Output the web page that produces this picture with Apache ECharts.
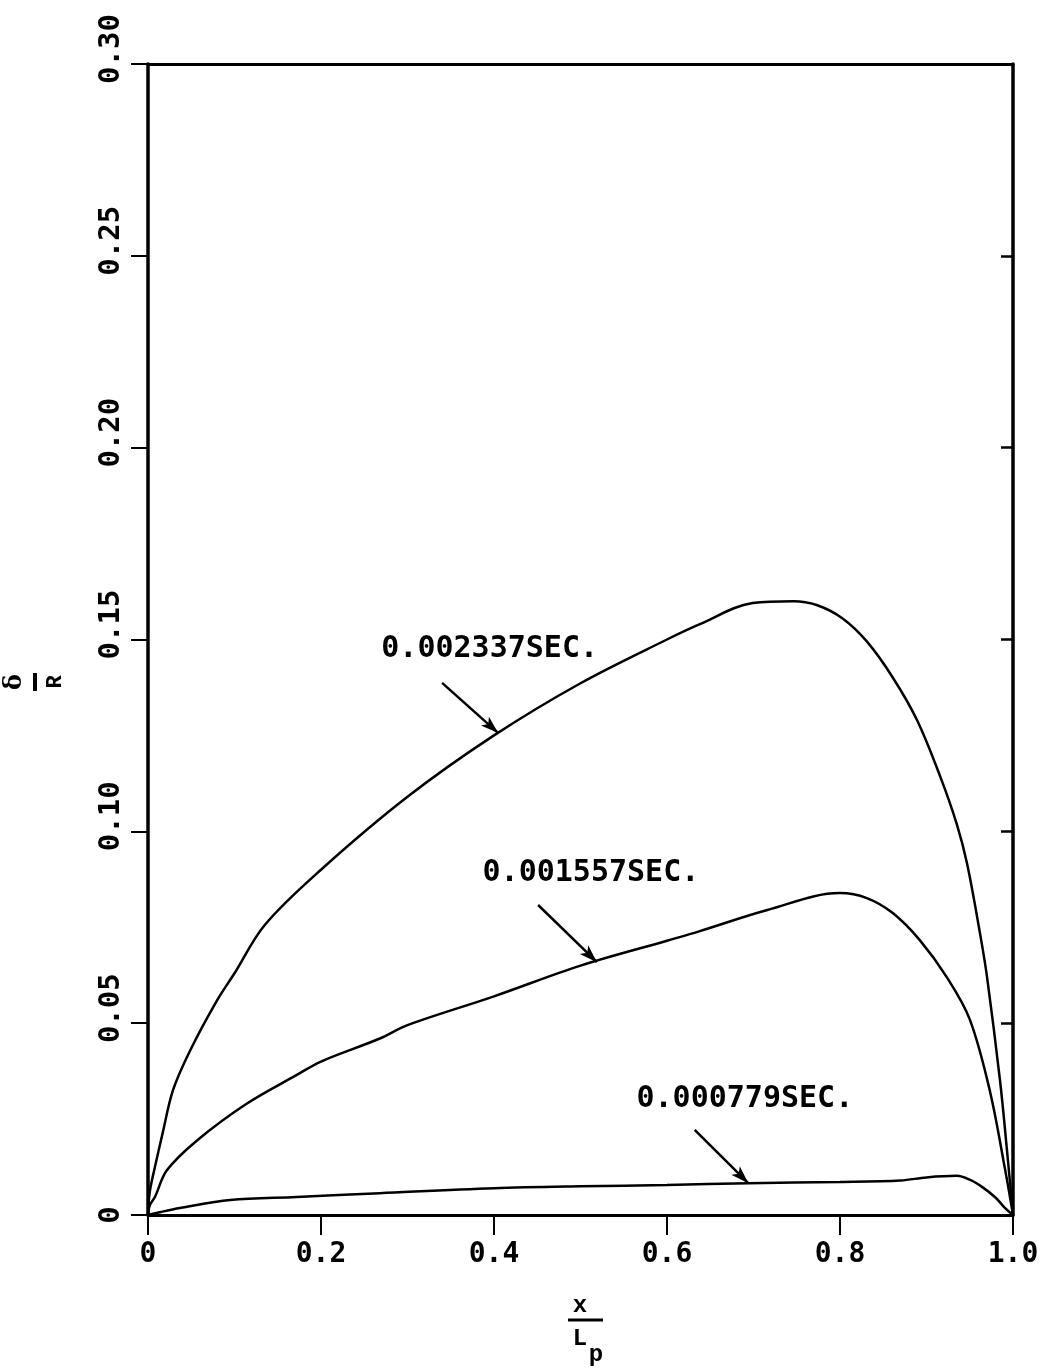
<!DOCTYPE html>
<html>
<head>
<meta charset="utf-8">
<script src="https://cdn.jsdelivr.net/npm/echarts@6/dist/echarts.min.js"></script>
<style>
html,body{margin:0;padding:0;background:#fff;}
#chart{width:1050px;height:1371px;}
</style>
</head>
<body>
<div id="chart"></div>
<script>
// ---- data ----
const xTicks = [0, 0.2, 0.4, 0.6, 0.8, 1.0];
const yTicks = [0, 0.05, 0.10, 0.15, 0.20, 0.25, 0.30];

const curve002337 = [[0,0],[0.002,0.006],[0.008,0.0125],[0.017,0.0214],[0.029,0.0326],[0.049,0.043],[0.080,0.056],[0.1,0.063],[0.135,0.0756],[0.2,0.090],[0.3,0.109],[0.4,0.125],[0.5,0.1386],[0.6,0.150],[0.638,0.154],[0.699,0.1595],[0.746,0.160],[0.773,0.159],[0.803,0.1555],[0.831,0.1495],[0.861,0.1401],[0.889,0.129],[0.916,0.1142],[0.935,0.1019],[0.947,0.0915],[0.962,0.0732],[0.970,0.062],[0.985,0.035],[0.993,0.017],[1.0,0]];
const curve001557 = [[0,0],[0.002,0.0025],[0.008,0.0047],[0.022,0.0117],[0.057,0.0195],[0.114,0.029],[0.172,0.0365],[0.2,0.040],[0.268,0.046],[0.3,0.0495],[0.4,0.057],[0.5,0.065],[0.6,0.0715],[0.638,0.074],[0.716,0.0795],[0.8,0.0839],[0.831,0.0826],[0.861,0.0787],[0.892,0.0717],[0.924,0.0618],[0.95,0.051],[0.973,0.0326],[0.991,0.0117],[1,0]];
const curve000779 = [[0,0],[0.015,0.0008],[0.037,0.0018],[0.095,0.0039],[0.172,0.0047],[0.268,0.0057],[0.4,0.007],[0.5,0.0075],[0.6,0.0078],[0.694,0.0083],[0.8,0.0086],[0.87,0.009],[0.9,0.0098],[0.935,0.0102],[0.95,0.0092],[0.965,0.0072],[0.98,0.0045],[0.99,0.002],[1,0]];

const labelNames = ['0.002337SEC.', '0.001557SEC.', '0.000779SEC.'];
const labelPos = [[0.395,0.1475],[0.512,0.0891],[0.690,0.0302]];
const arrowFrom = [[0.340,0.1387],[0.451,0.0808],[0.632,0.0222]];
const arrowTo = [[0.405,0.1256],[0.519,0.0659],[0.694,0.0083]];

// ---- chart ----
const mono = '"DejaVu Sans Mono", "Liberation Mono", monospace';
const chart = echarts.init(document.getElementById('chart'), null, {renderer:'canvas'});

function arrowMark(i){
  return {
    silent:true,
    symbol:['none','arrow'],
    symbolSize:[9,18],
    label:{show:false},
    lineStyle:{type:'solid', color:'#000', width:2.5, opacity:1},
    data:[[{coord:arrowFrom[i]},{coord:arrowTo[i]}]]
  };
}
const lineSeries = [curve002337, curve001557, curve000779].map((d,i)=>({
  type:'line', data:d, showSymbol:false, smooth:0.35, silent:true,
  lineStyle:{color:'#000', width:2.5},
  markLine: arrowMark(i),
  z:3
}));

const option = {
  backgroundColor:'#fff',
  animation:false,
  grid:{left:148, right:37, top:64, bottom:156, containLabel:false},
  xAxis:[{
    type:'value', min:0, max:1, interval:0.2, position:'bottom',
    axisLine:{show:true, onZero:false, lineStyle:{color:'#000', width:3}},
    axisTick:{show:true, inside:false, length:20, lineStyle:{color:'#000', width:2}},
    splitLine:{show:false},
    axisLabel:{margin:26, color:'#000', fontFamily:mono, fontSize:28, fontWeight:'bold',
      formatter:v=> v===0 ? '0' : v.toFixed(1)}
  },{
    type:'value', min:0, max:1, position:'top',
    axisLine:{show:true, onZero:false, lineStyle:{color:'#000', width:3}},
    axisTick:{show:false}, axisLabel:{show:false}, splitLine:{show:false}
  }],
  yAxis:[{
    type:'value', min:0, max:0.30, interval:0.05, position:'left',
    axisLine:{show:true, onZero:false, lineStyle:{color:'#000', width:3.5}},
    axisTick:{show:true, inside:false, length:17, lineStyle:{color:'#000', width:2}},
    splitLine:{show:false},
    axisLabel:{rotate:90, margin:22, color:'#000', fontFamily:mono, fontSize:29, fontWeight:'bold',
      formatter:v=> v===0 ? '{z|0}' : '{n|' + v.toFixed(2) + '}',
      rich:{
        z:{fontFamily:mono, fontSize:29, fontWeight:'bold', color:'#000'},
        n:{fontFamily:mono, fontSize:29, fontWeight:'bold', color:'#000', padding:[0,0,0,30]}
      }}
  },{
    type:'value', min:0, max:0.30, interval:0.05, position:'right',
    axisLine:{show:true, onZero:false, lineStyle:{color:'#000', width:3.5}},
    axisTick:{show:true, inside:true, length:12, lineStyle:{color:'#000', width:2.5}},
    axisLabel:{show:false}, splitLine:{show:false}
  }],
  series: lineSeries.concat([{
    type:'scatter', symbolSize:0, silent:true,
    itemStyle:{opacity:1},
    data: labelPos.map((p,i)=>({value:p, name:labelNames[i]})),
    label:{show:true, position:'inside', formatter:'{b}', color:'#000', opacity:1,
      fontFamily:mono, fontSize:30, fontWeight:'bold'},
    z:5
  }]),
  graphic:[
    {
      type:'group', x:35, y:682, rotation:Math.PI/2,
      children:[
        {type:'text', x:0, y:-20, style:{text:'δ', font:'bold 24px "DejaVu Serif", serif', fill:'#000', align:'center', verticalAlign:'middle'}},
        {type:'line', shape:{x1:-9, y1:0, x2:9, y2:0}, style:{stroke:'#000', lineWidth:4}},
        {type:'text', x:0, y:20, style:{text:'R', font:'bold 22px "Liberation Mono", monospace', fill:'#000', align:'center', verticalAlign:'middle'}}
      ]
    },
    {
      type:'group', x:586, y:1320,
      children:[
        {type:'text', x:-6, y:-14, style:{text:'x', font:'bold 24px "Liberation Mono", monospace', fill:'#000', align:'center', verticalAlign:'middle'}},
        {type:'line', shape:{x1:-18, y1:0, x2:17, y2:0}, style:{stroke:'#000', lineWidth:3}},
        {type:'text', x:-6, y:19, style:{text:'L', font:'bold 24px "Liberation Mono", monospace', fill:'#000', align:'center', verticalAlign:'middle'}},
        {type:'text', x:10, y:35, style:{text:'p', font:'bold 24px "Liberation Mono", monospace', fill:'#000', align:'center', verticalAlign:'middle'}}
      ]
    }
  ]
};
chart.setOption(option);
</script>
</body>
</html>
